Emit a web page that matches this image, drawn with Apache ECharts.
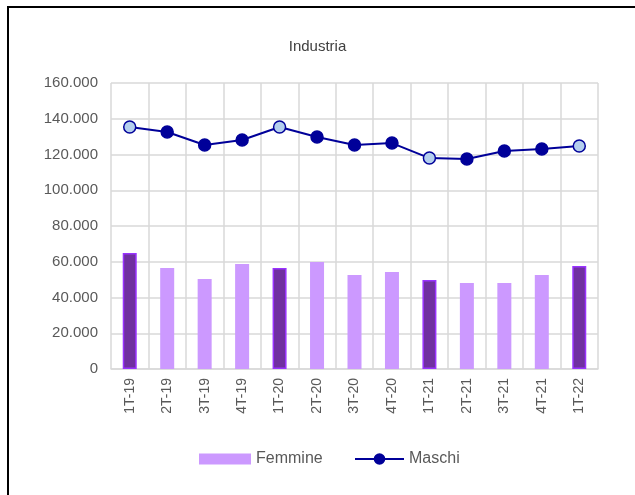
<!DOCTYPE html>
<html>
<head>
<meta charset="utf-8">
<script src="https://cdn.jsdelivr.net/npm/echarts@6/dist/echarts.min.js"></script>
<style>
  html, body { margin: 0; padding: 0; background: #fff; }
  #main { width: 635px; height: 495px; }
</style>
</head>
<body>
<div id="main"></div>
<script>
// dati
var categories = ['1T-19', '2T-19', '3T-19', '4T-19', '1T-20', '2T-20', '3T-20', '4T-20', '1T-21', '2T-21', '3T-21', '4T-21', '1T-22'];
var femmine = [64900, 56500, 50300, 58700, 56500, 59900, 52600, 54300, 49800, 48100, 48100, 52600, 57600];
var maschi = [135400, 132600, 125300, 128100, 135400, 129800, 125300, 126400, 118000, 117500, 122000, 123100, 124800];

var font = 'Liberation Sans, Arial, sans-serif';

// primo trimestre evidenziato
var isQ1 = function (i) { return categories[i].indexOf('1T') === 0; };

var barData = femmine.map(function (v, i) {
  return isQ1(i)
    ? { value: v, itemStyle: { color: '#7030A0', borderColor: '#9933FF', borderWidth: 1.5 } }
    : v;
});
var lineData = maschi.map(function (v, i) {
  return isQ1(i) ? { value: v, itemStyle: { color: '#B4CFEE' } } : v;
});

var chart = echarts.init(document.getElementById('main'));
chart.setOption({
  animation: false,
  textStyle: { fontFamily: font },
  title: {
    text: 'Industria',
    left: 'center',
    top: 34,
    textStyle: { fontSize: 15, fontWeight: 'normal', color: '#404040', fontFamily: font }
  },
  graphic: [{
    type: 'rect',
    shape: { x: 8, y: 7, width: 640, height: 500 },
    style: { fill: 'none', stroke: '#000', lineWidth: 2 }
  }],
  legend: [{
    data: ['Femmine'],
    icon: 'rect',
    left: 194,
    top: 446,
    itemWidth: 52,
    itemHeight: 11,
    itemGap: 6,
    textStyle: { fontSize: 16, color: '#595959', fontFamily: font }
  }, {
    data: ['Maschi'],
    left: 349,
    top: 446,
    itemWidth: 49,
    itemHeight: 12,
    textStyle: { fontSize: 16, color: '#595959', fontFamily: font }
  }],
  grid: { left: 111, right: 37, top: 83, bottom: 126 },
  xAxis: {
    type: 'category',
    data: categories,
    axisLine: { lineStyle: { color: '#D9D9D9', width: 1.5 } },
    axisTick: { show: false },
    splitLine: { show: true, interval: 0, lineStyle: { color: '#D9D9D9', width: 1.5 } },
    axisLabel: {
      rotate: 90, interval: 0, margin: 9,
      fontSize: 14, color: '#595959', fontFamily: font
    }
  },
  yAxis: {
    type: 'value',
    min: 0, max: 160000, interval: 20000,
    axisLine: { show: false },
    axisTick: { show: false },
    splitLine: { lineStyle: { color: '#D9D9D9', width: 1.5 } },
    axisLabel: {
      margin: 13, fontSize: 15, color: '#595959', fontFamily: font,
      formatter: function (v) { return String(v).replace(/\B(?=(\d{3})+(?!\d))/g, '.'); }
    }
  },
  series: [{
    name: 'Femmine',
    type: 'bar',
    data: barData,
    barWidth: 14,
    itemStyle: { color: '#CC99FF' }
  }, {
    name: 'Maschi',
    type: 'line',
    data: lineData,
    symbol: 'circle',
    symbolSize: 12,
    lineStyle: { color: '#000099', width: 2 },
    itemStyle: { color: '#000099', borderColor: '#000099', borderWidth: 1.5 },
    z: 3
  }]
});
</script>
</body>
</html>
